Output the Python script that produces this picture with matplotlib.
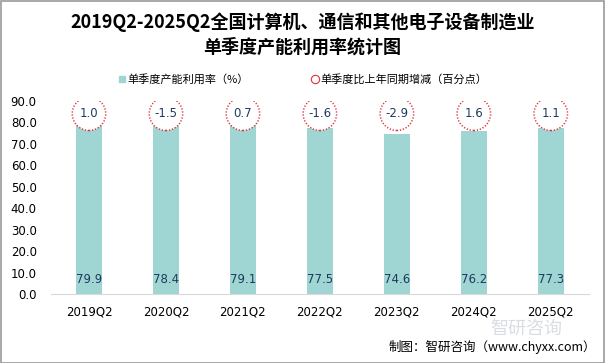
import matplotlib
matplotlib.use("Agg")
import matplotlib.pyplot as plt
from matplotlib.lines import Line2D
from matplotlib.patches import Rectangle

plt.rcParams['font.family'] = ['Noto Sans CJK SC', 'DejaVu Sans']

quarters = ["2019Q2", "2020Q2", "2021Q2", "2022Q2", "2023Q2", "2024Q2", "2025Q2"]
utilization = [79.9, 78.4, 79.1, 77.5, 74.6, 76.2, 77.3]
yoy_change = [1.0, -1.5, 0.7, -1.6, -2.9, 1.6, 1.1]
yticks = [0, 10, 20, 30, 40, 50, 60, 70, 80, 90]

bar_color = "#9FD6D3"
circle_color = "#E0303A"
label_color = "#1F3A5F"
circle_level = 84.0   # height where the yoy circles sit
value_level = 7.0     # height of the in-bar value labels

fig = plt.figure(figsize=(6.05, 3.63), dpi=100)
ax = fig.add_axes([0.0835, 0.19, 0.8905, 0.532])

x = list(range(len(quarters)))
ax.bar(x, utilization, width=0.34, color=bar_color, zorder=2)

for i in x:
    ax.text(i, value_level, "%.1f" % utilization[i], ha="center", va="center",
            fontsize=8.5, color=label_color, family="DejaVu Sans", zorder=4)
    ax.scatter(i, circle_level, s=580, facecolor="white", edgecolor=circle_color,
               linestyle=(0, (0.8, 1.2)), linewidth=1.1, zorder=3)
    ax.text(i, circle_level, "%.1f" % yoy_change[i], ha="center", va="center",
            fontsize=8.5, color=label_color, family="DejaVu Sans", zorder=4)

ax.set_xlim(-0.5, len(quarters) - 0.5)
ax.set_ylim(0, 90)
ax.set_yticks(yticks)
ax.set_yticklabels(["%.1f" % v for v in yticks], family="DejaVu Sans", fontsize=8.5)
ax.set_xticks(x)
ax.set_xticklabels(quarters, family="DejaVu Sans", fontsize=8.5)
ax.tick_params(length=0, pad=8)
ax.tick_params(axis="y", pad=10)
for side in ["top", "right", "left"]:
    ax.spines[side].set_visible(False)
ax.spines["bottom"].set_color("#D9D9D9")

fig.text(0.5, 0.94, "2019Q2-2025Q2全国计算机、通信和其他电子设备制造业",
         ha="center", va="center", fontsize=13, fontweight="bold")
fig.text(0.5, 0.87, "单季度产能利用率统计图", ha="center", va="center",
         fontsize=13, fontweight="bold")

handles = [
    Line2D([], [], marker="s", linestyle="none", markersize=5,
           markerfacecolor=bar_color, markeredgecolor=bar_color),
    Line2D([], [], marker="o", linestyle="none", markersize=6,
           markerfacecolor="white", markeredgecolor=circle_color, markeredgewidth=0.8),
]
fig.legend(handles, ["单季度产能利用率（%）", "单季度比上年同期增减（百分点）"],
           loc="center", bbox_to_anchor=(0.5, 0.78), ncol=2, frameon=False,
           fontsize=8, handletextpad=0.1, columnspacing=5.5, handlelength=0.8)

# faint watermark, kept below the tick labels
fig.text(0.87, 0.095, "智研咨询", ha="center", va="center", fontsize=13,
         color="#C9CED6", alpha=0.7)

fig.text(0.985, 0.045, "制图：智研咨询（www.chyxx.com）", ha="right", va="center",
         fontsize=9)

fig.add_artist(Rectangle((0.001, 0.001), 0.997, 0.996, transform=fig.transFigure,
                         fill=False, edgecolor="#999999", linewidth=1.2))

fig.savefig("out.png", dpi=100)
